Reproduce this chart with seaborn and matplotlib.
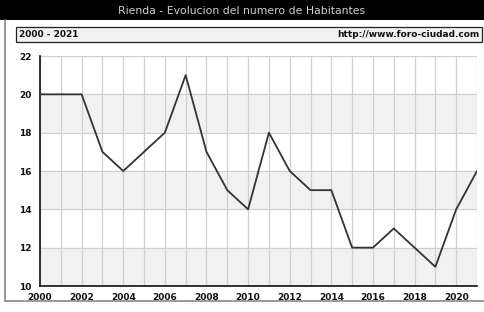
import matplotlib
matplotlib.use("Agg")
import matplotlib.pyplot as plt
import seaborn as sns
import pandas as pd
from matplotlib.patches import Rectangle
from matplotlib.lines import Line2D

years = list(range(2000, 2022))
habitantes = [20, 20, 20, 17, 16, 17, 18, 21, 17, 15, 14, 18, 16, 15, 15, 12, 12, 13, 12, 11, 14, 16]
title = "Rienda - Evolucion del numero de Habitantes"
subtitle_left = "2000 - 2021"
subtitle_right = "http://www.foro-ciudad.com"

df = pd.DataFrame({"year": years, "hab": habitantes})

sns.set_style("white")
plt.rcParams['font.family'] = ['DejaVu Sans']

fig = plt.figure(figsize=(4.84, 3.12), dpi=100)
fig.patch.set_facecolor("white")

# title bar
fig.patches.append(Rectangle((0, 1 - 20/312), 1, 20/312, transform=fig.transFigure,
                             facecolor="black", edgecolor="none", zorder=0))
fig.text(0.5, 1 - 11/312, title, color="#cfcfcf", ha="center", va="center", fontsize=7.8)

# outer frame
fig.lines.append(Line2D([5/484, 5/484], [1 - 20/312, 1 - 301/312], transform=fig.transFigure,
                        color="#888888", lw=1.2))
fig.lines.append(Line2D([5/484, 1], [1 - 301/312, 1 - 301/312], transform=fig.transFigure,
                        color="#888888", lw=1.2))

# subtitle box
fig.patches.append(Rectangle((16/484, 1 - 42/312), 466/484, 15/312, transform=fig.transFigure,
                             facecolor="#f2f2f2", edgecolor="#222222", lw=0.9))
fig.text(19/484, 1 - 34.5/312, subtitle_left, ha="left", va="center", fontsize=6.5,
         fontweight="bold", color="#111111")
fig.text(479/484, 1 - 34.5/312, subtitle_right, ha="right", va="center", fontsize=6.5,
         fontweight="bold", color="#111111")

ax = fig.add_axes([40/484, 1 - 286/312, 437/484, 230/312])
ax.set_xlim(2000, 2021)
ax.set_ylim(10, 22)

# bands
for lo in [10, 14, 18]:
    ax.axhspan(lo, lo + 2, color="#f1f1f1", zorder=0, lw=0)

for yv in range(10, 23, 2):
    ax.axhline(yv, color="#d0d0d0", lw=0.9, zorder=1)
for xv in years:
    ax.axvline(xv, color="#d0d0d0", lw=0.9, zorder=1)

sns.lineplot(data=df, x="year", y="hab", ax=ax, color="#333333", lw=1.3, zorder=3)

ax.set_xlabel("")
ax.set_ylabel("")
ax.set_xticks(range(2000, 2022, 2))
ax.set_xticks(years, minor=True)
ax.set_yticks(range(10, 23, 2))
ax.set_yticks(range(11, 22, 2), minor=True)
ax.tick_params(axis="both", which="both", direction="in", length=4, width=1, color="#111111",
               labelsize=6.5, labelcolor="#111111")
ax.tick_params(axis="y", pad=6)
ax.tick_params(axis="x", pad=5)
for lab in ax.get_xticklabels() + ax.get_yticklabels():
    lab.set_fontweight("bold")

for s in ["top", "right"]:
    ax.spines[s].set_visible(False)
for s in ["left", "bottom"]:
    ax.spines[s].set_color("#111111")
    ax.spines[s].set_linewidth(1.2)

fig.savefig("out.png", dpi=100)
